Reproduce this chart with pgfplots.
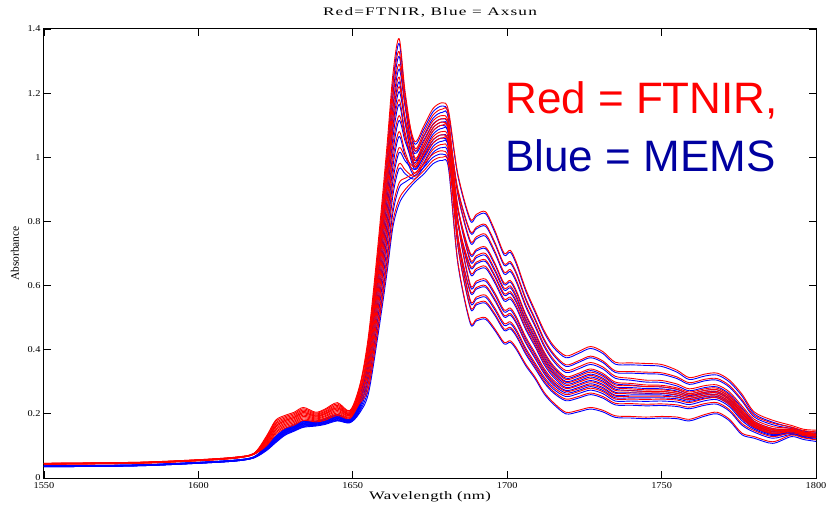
\documentclass[border=0pt]{standalone}
\usepackage{fontspec}
\setmainfont{Liberation Serif}
\newfontfamily\arialfont{Liberation Sans}
\newfontfamily\tickfont[FakeStretch=1.15]{Liberation Serif}
\newfontfamily\titlefont[FakeStretch=1.5,LetterSpace=10]{Liberation Serif}
\newfontfamily\xlabfont[FakeStretch=1.45,LetterSpace=4]{Liberation Serif}
\usepackage{pgfplots}
\usepackage{pgfplotstable}
\pgfplotsset{compat=1.18}
\definecolor{memsblue}{RGB}{0,0,160}

\pgfplotstableread{
x r1 r2 r3 r4 r5 r6 r7 r8 r9 r10 r11 r12 b1 b2 b3 b4 b5 b6 b7 b8 b9 b10 b11 b12
1550 0.046 0.045 0.046 0.044 0.045 0.044 0.045 0.043 0.044 0.043 0.044 0.043 0.038 0.037 0.038 0.036 0.037 0.036 0.037 0.035 0.036 0.035 0.036 0.035
1580 0.049 0.048 0.049 0.047 0.048 0.047 0.048 0.046 0.047 0.046 0.047 0.046 0.041 0.040 0.041 0.039 0.040 0.039 0.040 0.038 0.039 0.038 0.039 0.038
1600 0.057 0.056 0.057 0.055 0.056 0.055 0.056 0.054 0.055 0.054 0.055 0.054 0.049 0.048 0.049 0.047 0.048 0.047 0.048 0.046 0.047 0.046 0.047 0.046
1612 0.065 0.064 0.065 0.063 0.064 0.063 0.064 0.062 0.063 0.062 0.063 0.062 0.056 0.055 0.056 0.054 0.055 0.054 0.055 0.053 0.054 0.053 0.054 0.053
1618 0.077 0.076 0.077 0.075 0.076 0.075 0.076 0.074 0.075 0.074 0.075 0.074 0.066 0.065 0.066 0.064 0.065 0.064 0.065 0.063 0.064 0.063 0.064 0.063
1622 0.127 0.124 0.130 0.118 0.121 0.115 0.118 0.109 0.112 0.106 0.103 0.100 0.099 0.097 0.100 0.094 0.096 0.093 0.094 0.090 0.091 0.088 0.087 0.085
1625 0.176 0.171 0.180 0.162 0.167 0.158 0.162 0.149 0.153 0.144 0.140 0.135 0.128 0.126 0.130 0.122 0.124 0.120 0.122 0.116 0.118 0.114 0.112 0.110
1628 0.191 0.187 0.195 0.179 0.183 0.175 0.179 0.167 0.171 0.163 0.159 0.155 0.151 0.149 0.153 0.145 0.147 0.143 0.145 0.139 0.141 0.137 0.135 0.133
1631 0.201 0.197 0.205 0.189 0.193 0.185 0.189 0.177 0.181 0.173 0.169 0.165 0.164 0.162 0.166 0.158 0.160 0.156 0.158 0.152 0.154 0.150 0.148 0.146
1634 0.216 0.212 0.220 0.204 0.208 0.200 0.204 0.192 0.196 0.188 0.184 0.180 0.176 0.174 0.178 0.170 0.172 0.168 0.170 0.164 0.166 0.162 0.160 0.158
1638 0.202 0.199 0.205 0.193 0.196 0.190 0.193 0.184 0.187 0.181 0.178 0.175 0.176 0.174 0.177 0.171 0.173 0.170 0.171 0.167 0.168 0.165 0.164 0.162
1641 0.212 0.208 0.215 0.201 0.205 0.198 0.201 0.191 0.194 0.187 0.184 0.180 0.183 0.181 0.185 0.178 0.180 0.176 0.178 0.172 0.174 0.171 0.169 0.167
1645 0.231 0.227 0.235 0.219 0.223 0.215 0.219 0.207 0.211 0.203 0.199 0.195 0.196 0.194 0.198 0.190 0.192 0.188 0.190 0.184 0.186 0.182 0.180 0.178
1649 0.208 0.205 0.210 0.200 0.203 0.198 0.200 0.193 0.195 0.190 0.188 0.185 0.183 0.182 0.184 0.179 0.180 0.178 0.179 0.176 0.177 0.174 0.173 0.172
1652 0.275 0.270 0.280 0.260 0.265 0.255 0.260 0.245 0.250 0.240 0.235 0.230 0.236 0.232 0.240 0.224 0.228 0.220 0.224 0.212 0.216 0.208 0.204 0.200
1655 0.438 0.426 0.413 0.400 0.390 0.378 0.362 0.346 0.330 0.314 0.294 0.278 0.411 0.399 0.387 0.375 0.366 0.354 0.339 0.324 0.309 0.294 0.276 0.261
1658 0.712 0.692 0.671 0.650 0.634 0.614 0.588 0.562 0.536 0.510 0.478 0.452 0.685 0.665 0.645 0.625 0.610 0.590 0.565 0.540 0.515 0.490 0.460 0.435
1661 1.028 0.998 0.968 0.938 0.915 0.885 0.848 0.810 0.773 0.735 0.690 0.653 1.000 0.971 0.942 0.913 0.891 0.861 0.825 0.788 0.752 0.715 0.672 0.635
1663 1.260 1.224 1.187 1.150 1.122 1.086 1.040 0.994 0.948 0.902 0.846 0.800 1.233 1.197 1.161 1.125 1.098 1.062 1.017 0.972 0.927 0.882 0.828 0.783
1665 1.370 1.330 1.290 1.250 1.220 1.180 1.130 1.080 1.030 0.980 0.920 0.870 1.355 1.315 1.275 1.235 1.205 1.165 1.115 1.065 1.015 0.965 0.905 0.855
1667 1.200 1.165 1.170 1.115 1.120 1.075 1.060 1.015 1.000 0.960 0.935 0.900 1.188 1.153 1.158 1.103 1.108 1.063 1.048 1.003 0.988 0.948 0.923 0.888
1670 1.030 1.000 1.050 0.980 1.020 0.970 0.990 0.950 0.970 0.940 0.950 0.930 1.022 0.992 1.042 0.972 1.012 0.962 0.982 0.942 0.962 0.932 0.942 0.922
1673 1.078 1.048 1.098 1.028 1.064 1.014 1.038 0.994 1.010 0.980 0.978 0.958 1.068 1.038 1.088 1.018 1.054 1.004 1.028 0.984 1.000 0.970 0.968 0.948
1676 1.132 1.102 1.152 1.082 1.114 1.064 1.092 1.044 1.055 1.025 1.010 0.990 1.122 1.092 1.142 1.072 1.104 1.054 1.082 1.034 1.045 1.015 1.000 0.980
1679 1.150 1.120 1.170 1.100 1.130 1.080 1.110 1.060 1.070 1.040 1.020 1.000 1.140 1.110 1.160 1.090 1.120 1.070 1.100 1.050 1.060 1.030 1.010 0.990
1681 1.125 1.095 1.145 1.075 1.105 1.055 1.085 1.035 1.045 1.015 0.995 0.975 1.115 1.085 1.135 1.065 1.095 1.045 1.075 1.025 1.035 1.005 0.985 0.965
1684 0.806 0.847 0.949 0.756 0.890 0.807 0.902 0.729 0.843 0.754 0.799 0.675 0.800 0.841 0.943 0.750 0.884 0.801 0.897 0.724 0.838 0.749 0.794 0.670
1688 0.605 0.683 0.809 0.556 0.741 0.644 0.770 0.536 0.702 0.585 0.663 0.488 0.599 0.677 0.803 0.550 0.735 0.638 0.765 0.531 0.697 0.580 0.658 0.483
1690 0.614 0.693 0.822 0.564 0.752 0.653 0.782 0.545 0.713 0.594 0.673 0.495 0.608 0.687 0.816 0.558 0.746 0.647 0.777 0.540 0.708 0.589 0.668 0.490
1693 0.620 0.700 0.830 0.570 0.760 0.660 0.790 0.550 0.720 0.600 0.680 0.500 0.614 0.694 0.824 0.564 0.754 0.654 0.785 0.545 0.715 0.595 0.675 0.495
1696 0.577 0.651 0.772 0.530 0.707 0.614 0.735 0.512 0.670 0.558 0.632 0.465 0.571 0.645 0.766 0.524 0.701 0.608 0.730 0.507 0.665 0.553 0.627 0.460
1699 0.524 0.592 0.701 0.482 0.642 0.558 0.668 0.465 0.608 0.507 0.575 0.423 0.518 0.586 0.695 0.476 0.636 0.552 0.663 0.460 0.603 0.502 0.570 0.418
1701 0.530 0.599 0.710 0.487 0.650 0.564 0.675 0.470 0.616 0.513 0.581 0.428 0.524 0.593 0.704 0.481 0.644 0.558 0.670 0.465 0.611 0.508 0.576 0.423
1703 0.502 0.567 0.672 0.462 0.616 0.535 0.640 0.446 0.583 0.486 0.551 0.405 0.496 0.561 0.666 0.456 0.610 0.529 0.635 0.441 0.578 0.481 0.546 0.400
1706 0.440 0.497 0.589 0.405 0.540 0.469 0.561 0.391 0.511 0.426 0.483 0.355 0.434 0.491 0.583 0.399 0.534 0.463 0.556 0.386 0.506 0.421 0.478 0.350
1709 0.391 0.441 0.523 0.359 0.479 0.416 0.498 0.347 0.454 0.378 0.428 0.315 0.385 0.435 0.517 0.353 0.473 0.410 0.493 0.342 0.449 0.373 0.423 0.310
1712 0.341 0.382 0.459 0.315 0.415 0.359 0.433 0.302 0.393 0.330 0.370 0.267 0.335 0.376 0.453 0.309 0.409 0.353 0.428 0.297 0.388 0.325 0.365 0.262
1715 0.305 0.340 0.413 0.283 0.370 0.320 0.388 0.270 0.350 0.295 0.330 0.235 0.299 0.334 0.407 0.277 0.364 0.314 0.383 0.265 0.345 0.290 0.325 0.230
1719 0.279 0.307 0.381 0.260 0.335 0.288 0.353 0.246 0.316 0.270 0.298 0.205 0.273 0.301 0.375 0.254 0.329 0.282 0.348 0.241 0.311 0.265 0.293 0.200
1723 0.288 0.317 0.394 0.269 0.346 0.298 0.365 0.254 0.326 0.278 0.307 0.211 0.282 0.311 0.388 0.263 0.340 0.292 0.360 0.249 0.321 0.273 0.302 0.206
1727 0.300 0.330 0.410 0.280 0.360 0.310 0.380 0.265 0.340 0.290 0.320 0.220 0.294 0.324 0.404 0.274 0.354 0.304 0.375 0.260 0.335 0.285 0.315 0.215
1731 0.288 0.317 0.394 0.269 0.346 0.298 0.365 0.254 0.326 0.278 0.307 0.211 0.282 0.311 0.388 0.263 0.340 0.292 0.360 0.249 0.321 0.273 0.302 0.206
1735 0.264 0.290 0.361 0.246 0.317 0.273 0.334 0.233 0.299 0.255 0.282 0.194 0.258 0.284 0.355 0.240 0.311 0.267 0.329 0.228 0.294 0.250 0.277 0.189
1740 0.265 0.288 0.359 0.246 0.311 0.272 0.332 0.232 0.295 0.255 0.278 0.192 0.259 0.282 0.353 0.240 0.305 0.266 0.327 0.227 0.290 0.250 0.273 0.187
1745 0.265 0.285 0.357 0.245 0.305 0.270 0.330 0.230 0.290 0.255 0.275 0.190 0.259 0.279 0.351 0.239 0.299 0.264 0.325 0.225 0.285 0.250 0.270 0.185
1750 0.265 0.284 0.354 0.246 0.304 0.270 0.328 0.231 0.289 0.255 0.275 0.192 0.259 0.278 0.348 0.240 0.298 0.264 0.323 0.226 0.284 0.250 0.270 0.187
1755 0.259 0.277 0.336 0.243 0.293 0.264 0.315 0.228 0.281 0.252 0.269 0.190 0.253 0.271 0.330 0.237 0.287 0.258 0.310 0.223 0.276 0.247 0.264 0.185
1759 0.249 0.263 0.313 0.235 0.278 0.254 0.297 0.221 0.268 0.244 0.259 0.183 0.243 0.257 0.307 0.229 0.272 0.248 0.292 0.216 0.263 0.239 0.254 0.178
1764 0.259 0.273 0.324 0.247 0.288 0.264 0.308 0.232 0.278 0.254 0.268 0.198 0.253 0.267 0.318 0.241 0.282 0.258 0.303 0.227 0.273 0.249 0.263 0.193
1768 0.260 0.275 0.327 0.250 0.290 0.265 0.310 0.235 0.280 0.255 0.270 0.205 0.254 0.269 0.321 0.244 0.284 0.259 0.305 0.230 0.275 0.250 0.265 0.200
1772 0.238 0.253 0.305 0.228 0.268 0.243 0.288 0.213 0.258 0.233 0.248 0.183 0.232 0.247 0.299 0.222 0.262 0.237 0.283 0.208 0.253 0.228 0.243 0.178
1776 0.195 0.210 0.262 0.185 0.225 0.200 0.245 0.170 0.215 0.190 0.205 0.140 0.189 0.204 0.256 0.179 0.219 0.194 0.240 0.165 0.210 0.185 0.200 0.135
1780 0.164 0.173 0.206 0.158 0.183 0.167 0.195 0.148 0.176 0.161 0.170 0.129 0.158 0.167 0.200 0.152 0.177 0.161 0.190 0.143 0.171 0.156 0.165 0.124
1786 0.143 0.151 0.180 0.138 0.160 0.146 0.171 0.129 0.154 0.140 0.149 0.113 0.137 0.145 0.174 0.132 0.154 0.140 0.166 0.124 0.149 0.135 0.144 0.108
1792 0.147 0.151 0.164 0.145 0.155 0.149 0.159 0.141 0.152 0.146 0.150 0.134 0.141 0.145 0.158 0.139 0.149 0.143 0.154 0.136 0.147 0.141 0.145 0.129
1796 0.137 0.141 0.152 0.135 0.144 0.138 0.148 0.132 0.142 0.136 0.139 0.125 0.131 0.135 0.146 0.129 0.138 0.132 0.143 0.127 0.137 0.131 0.134 0.120
1800 0.132 0.136 0.149 0.130 0.140 0.134 0.144 0.126 0.137 0.131 0.135 0.119 0.126 0.130 0.143 0.124 0.134 0.128 0.139 0.121 0.132 0.126 0.130 0.114
}\spectra

\begin{document}
\begin{tikzpicture}
\path[use as bounding box] (-44pt,-29pt) rectangle (782pt,478pt);
\begin{axis}[
  at={(0pt,0pt)}, anchor=south west,
  scale only axis, width=772pt, height=449pt,
  xmin=1550, xmax=1800, ymin=0, ymax=1.4,
  xtick={1550,1600,1650,1700,1750,1800},
  ytick={0,0.2,0.4,0.6,0.8,1,1.2,1.4},
  /pgf/number format/1000 sep={},
  /pgf/number format/assume math mode=true,
  tick align=inside, major tick length=7pt,
  axis line style={line width=1pt},
  every tick/.style={black, line width=0.8pt},
  tick label style={font=\tickfont\fontsize{9}{10}\selectfont},
  xticklabel style={yshift=-1pt},
  title={Red=FTNIR, Blue = Axsun},
  title style={font=\titlefont\fontsize{11.5}{13}\selectfont, at={(axis description cs:0.5,1.029)}, anchor=base, yshift=-6pt},
  xlabel={Wavelength (nm)},
  xlabel style={font=\xlabfont\fontsize{11.5}{13}\selectfont, at={(axis description cs:0.5,-0.0423)}, anchor=center},
  ylabel={Absorbance},
  ylabel style={font=\fontsize{11.5}{13}\selectfont, at={(axis description cs:-0.0376,0.5)}, anchor=center},
  clip=true,
]
\pgfplotsinvokeforeach{1,...,12}{
  \addplot[blue, line width=0.9pt, smooth, tension=0.5] table[x=x, y=b#1] {\spectra};
}
\pgfplotsinvokeforeach{1,...,12}{
  \addplot[red, line width=0.9pt, smooth, tension=0.5] table[x=x, y=r#1] {\spectra};
}
\node[anchor=west, inner sep=0pt, text=red, font=\arialfont\fontsize{44}{44}\selectfont] at (axis cs:1699.3,1.176) {Red = FTNIR,};
\node[anchor=west, inner sep=0pt, text=memsblue, font=\arialfont\fontsize{44}{44}\selectfont] at (axis cs:1699.3,1.004) {Blue = MEMS};
\end{axis}
\end{tikzpicture}
\end{document}
